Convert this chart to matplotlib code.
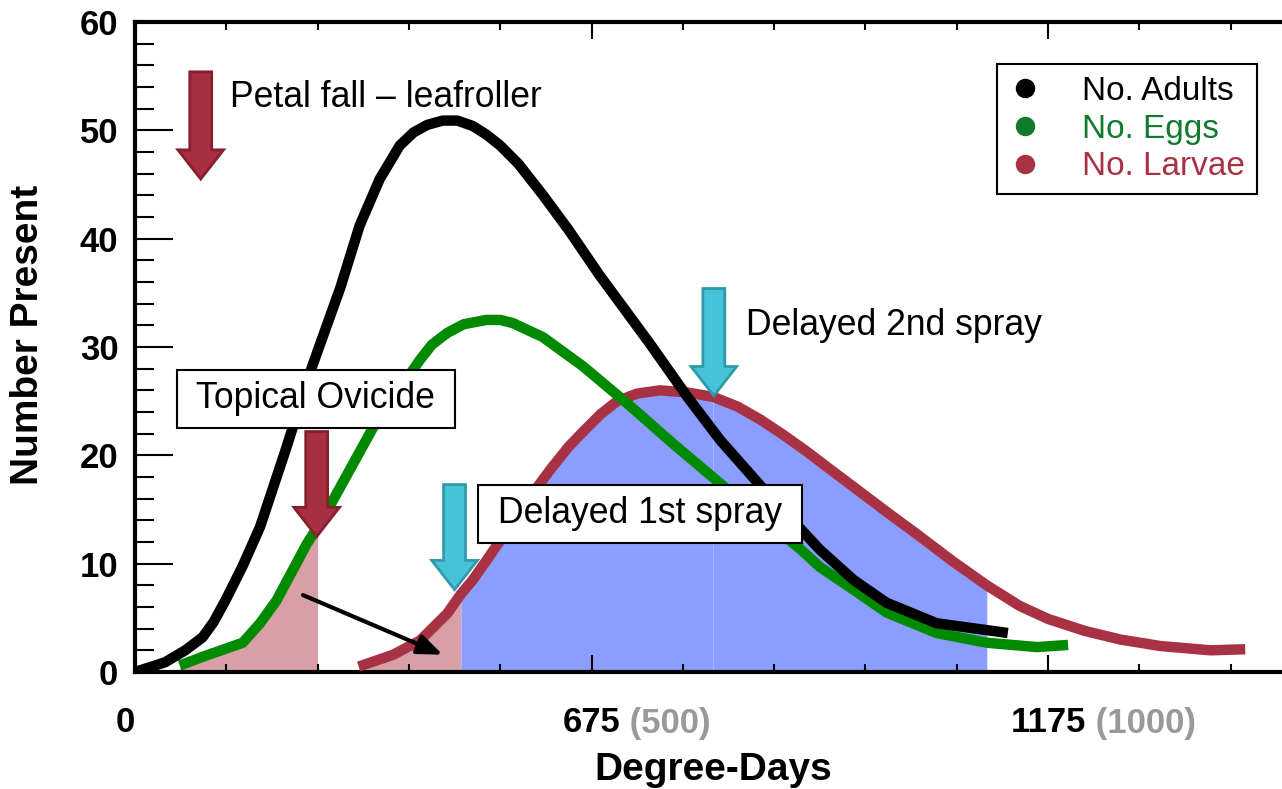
import matplotlib
matplotlib.use("Agg")
import matplotlib.pyplot as plt
from matplotlib.patches import FancyArrow
from matplotlib.lines import Line2D
import numpy as np

plt.rcParams['font.family'] = ['Liberation Sans', 'DejaVu Sans']

# degree-day scale (100 per minor tick) and counts
adults_x = [0, 33, 55, 74, 86, 99, 118, 137, 165, 194, 225, 246, 268, 290, 305, 320, 337, 353,
            370, 385, 400, 420, 447, 475, 509, 537, 564, 605, 641, 685, 750, 787, 823, 878, 956]
adults_y = [0, 0.9, 2.0, 3.2, 4.6, 6.6, 9.8, 13.4, 20.5, 28.2, 35.5, 41.2, 45.5, 48.6, 49.8, 50.5, 50.9, 50.9,
            50.4, 49.6, 48.6, 46.9, 44.0, 40.8, 36.6, 33.4, 30.3, 25.4, 21.4, 17.2, 11.3, 8.5, 6.4, 4.5, 3.6]

eggs_x = [49, 74, 118, 137, 155, 188, 200, 210, 261, 312, 325, 342, 360, 385, 400, 414, 447, 491, 539,
          589, 641, 690, 728, 750, 787, 823, 878, 933, 988, 1022]
eggs_y = [0.6, 1.4, 2.7, 4.5, 6.6, 11.8, 13.4, 14.8, 22.6, 28.8, 30.2, 31.3, 32.1, 32.5, 32.5, 32.2, 30.9, 28.2, 24.8,
          21.1, 17.4, 14.0, 11.4, 9.7, 7.6, 5.5, 3.6, 2.7, 2.3, 2.5]

larvae_x = [245, 283, 312, 342, 357, 370, 385, 433, 455, 475, 491, 510, 528, 550, 575, 605, 633, 660, 685,
            710, 735, 760, 790, 823, 860, 896, 933, 969, 1000, 1040, 1079, 1123, 1178, 1216]
larvae_y = [0.5, 1.6, 2.9, 5.4, 7.2, 8.5, 10.3, 16.2, 18.7, 20.8, 22.2, 23.8, 25.0, 25.7, 26.0, 25.8, 25.4, 24.5, 23.3,
            21.9, 20.4, 18.8, 16.9, 14.8, 12.5, 10.2, 8.0, 6.1, 4.9, 3.8, 3.0, 2.4, 2.0, 2.1]

tick_pos = [500, 1000]
tick_dd = ['675', '1175']
tick_base = ['(500)', '(1000)']

ovicide_end = 200
spray1_start, spray2_start, spray2_end = 357, 633, 933

BLACK, GREEN, RED = '#000000', '#008a00', '#a83244'
LEG_GREEN = '#127a2e'
PINK, BLUE = '#d8a0a6', '#8b9dfe'
ARROW_RED, ARROW_RED_EDGE = '#a82e42', '#86202f'
CYAN, CYAN_EDGE = '#47c3d9', '#2f9aaa'

W, H = 1282, 789
fig = plt.figure(figsize=(W / 100, H / 100), dpi=100)
ax = fig.add_axes([135 / W, (H - 672) / H, 1 - 135 / W, 650 / H])

ax.set_xlim(0, (W - 135) / 0.913)
ax.set_ylim(0, 60)

ex, ey = np.array(eggs_x), np.array(eggs_y)
lx, ly = np.array(larvae_x), np.array(larvae_y)

# treated areas under the curves
ax.fill_between(ex, ey, where=ex <= ovicide_end, color=PINK, lw=0, zorder=1)
ax.fill_between(lx, ly, where=lx <= spray1_start, color=PINK, lw=0, zorder=1)
ax.fill_between(lx, ly, where=(lx >= spray1_start) & (lx <= spray2_start), color=BLUE, lw=0, zorder=1)
ax.fill_between(lx, ly, where=(lx >= spray2_start) & (lx <= spray2_end), color=BLUE, lw=0, zorder=1)

kw = dict(lw=7.5, solid_capstyle='butt', solid_joinstyle='round', zorder=3)
ax.plot(larvae_x, larvae_y, color=RED, **kw)
ax.plot(eggs_x, eggs_y, color=GREEN, **kw)
ax.plot(adults_x, adults_y, color=BLACK, **kw)


def block_arrow(x, top, tip, fc, ec):
    ax.add_patch(FancyArrow(x, top, 0, tip - top, width=24, head_width=50, head_length=2.7,
                            length_includes_head=True, fc=fc, ec=ec, lw=2, zorder=5))


block_arrow(72, 55.4, 45.5, ARROW_RED, ARROW_RED_EDGE)
block_arrow(199, 22.2, 12.5, ARROW_RED, ARROW_RED_EDGE)
block_arrow(350, 17.3, 7.6, CYAN, CYAN_EDGE)
block_arrow(634, 35.4, 25.5, CYAN, CYAN_EDGE)

ax.text(104, 53, 'Petal fall \u2013 leafroller', fontsize=25.6, va='center', ha='left', zorder=6)
ax.text(669, 32, 'Delayed 2nd spray', fontsize=25.6, va='center', ha='left', zorder=6)
box = dict(boxstyle='square,pad=0.55', mutation_aspect=0.6, fc='white', ec='black', lw=1.5)
ax.text(198, 25.2, 'Topical Ovicide', fontsize=25.6, va='center', ha='center', bbox=box, zorder=6)
ax.text(553, 14.6, 'Delayed 1st spray', fontsize=25.6, va='center', ha='center', bbox=box, zorder=6)

ax.annotate('', xy=(337, 1.6), xytext=(184, 7.1),
            arrowprops=dict(arrowstyle='-|>,head_length=0.75,head_width=0.3', lw=3,
                            color='black', mutation_scale=20, shrinkA=0, shrinkB=0), zorder=6)

# axes styling
for s in ['left', 'bottom', 'top']:
    ax.spines[s].set_linewidth(3)
ax.spines['right'].set_visible(False)

ax.set_yticks(np.arange(0, 61, 10))
ax.set_yticks(np.arange(0, 61, 2), minor=True)
ax.tick_params(axis='y', which='major', direction='in', length=27, width=1.5, pad=12,
               labelsize=25, right=False)
ax.tick_params(axis='y', which='minor', direction='in', length=13.5, width=1.5, right=False)
for lab in ax.get_yticklabels():
    lab.set_fontweight('bold')

ax.set_xticks(tick_pos)
ax.set_xticks(np.arange(100, 1300, 100), minor=True)
ax.tick_params(axis='x', which='major', direction='in', length=12, width=1.5, top=True,
               labelbottom=False)
ax.tick_params(axis='x', which='minor', direction='in', length=6, width=1.5, top=True)

ax.annotate('0', xy=(-11, 0), xycoords=('data', 'axes fraction'), xytext=(0, -51),
            textcoords='offset pixels', ha='center', va='center', fontsize=25, fontweight='bold')
for p, dd, base in zip(tick_pos, tick_dd, tick_base):
    t = ax.annotate(dd, xy=(p, 0), xycoords=('data', 'axes fraction'), xytext=(0, -51),
                    textcoords='offset pixels', ha='center', va='center', fontsize=25,
                    fontweight='bold')
    ax.annotate(' ' + base, xy=(1, 0.5), xycoords=t, ha='left', va='center', fontsize=25,
                fontweight='bold', color='#999999')

ax.set_xlabel('Degree-Days', fontsize=28, fontweight='bold', va='center')
ax.xaxis.set_label_coords(0.504, -0.151)
ax.set_ylabel('Number Present', fontsize=28, fontweight='bold', va='center')
ax.yaxis.set_label_coords(-0.093, 0.518)

handles = [Line2D([], [], ls='none', marker='o', ms=13, color=c) for c in [BLACK, LEG_GREEN, RED]]
leg = ax.legend(handles, ['No. Adults', 'No. Eggs', 'No. Larvae'], loc='upper left',
                bbox_to_anchor=(0.7515, 0.935), borderaxespad=0, fontsize=24,
                labelspacing=0.2, handletextpad=1.2, handlelength=1.0, borderpad=0.35,
                fancybox=False, framealpha=1, edgecolor='black',
                labelcolor=[BLACK, LEG_GREEN, RED])
leg.get_frame().set_linewidth(1.5)
leg.set_zorder(7)

fig.savefig('out.png', dpi=100)
